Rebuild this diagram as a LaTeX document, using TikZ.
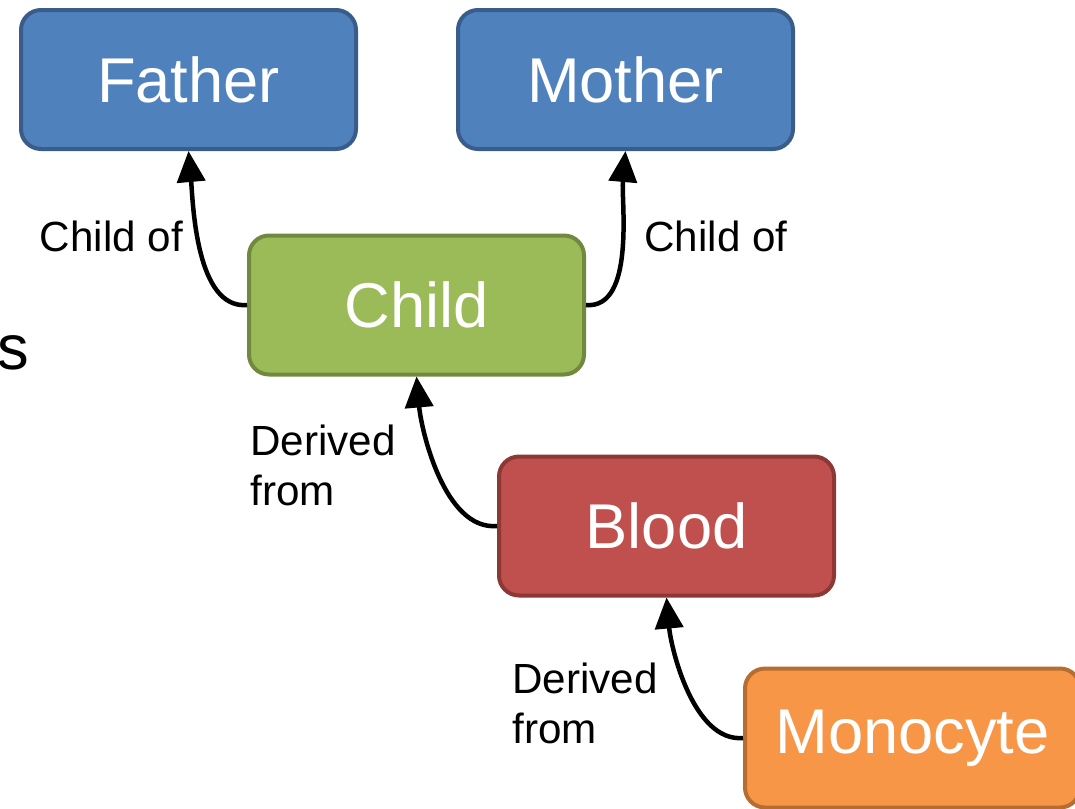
\documentclass[tikz,border=0pt]{standalone}
\usepackage{fontspec}
\setmainfont{Liberation Sans}
\usetikzlibrary{arrows.meta}

\definecolor{famblue}{HTML}{4F81BD}
\definecolor{famblueline}{HTML}{385D8A}
\definecolor{kidgreen}{HTML}{9BBB59}
\definecolor{kidgreenline}{HTML}{71893F}
\definecolor{bloodred}{HTML}{C0504D}
\definecolor{bloodredline}{HTML}{8C3836}
\definecolor{cellorange}{HTML}{F79646}
\definecolor{cellorangeline}{HTML}{B66D31}

\begin{document}
\begin{tikzpicture}[
            box/.style = {shape=rectangle, rounded corners=0.4cm,
                          draw, line width=0.08cm, inner sep=0pt,
                          minimum width=6.70cm, minimum height=2.78cm,
                          text=white, font=\fontsize{36}{40}\selectfont},
            lbl/.style = {align=left, inner sep=0pt,
                          font=\fontsize{24}{28.5}\selectfont},
            link/.style = {-{Triangle[width=0.56cm,length=0.62cm]},
                           line width=0.09cm, looseness=0.8}]
        \useasboundingbox (0,0) rectangle (21.5,-16.16);
        \clip (0,0) rectangle (21.5,-16.16);
        % left-over text at the edge
        \node[anchor=east, inner sep=0pt, font=\fontsize{36}{40}\selectfont] (cut) at (0.58,-7.05) {s};
        % boxes
        \node[box, fill=famblue, draw=famblueline] (father) at (3.77,-1.59) {Father};
        \node[box, fill=famblue, draw=famblueline] (mother) at (12.51,-1.59) {Mother};
        \node[box, fill=kidgreen, draw=kidgreenline] (child) at (8.33,-6.10) {Child};
        \node[box, fill=bloodred, draw=bloodredline] (blood) at (13.33,-10.52) {Blood};
        \node[box, fill=cellorange, draw=cellorangeline] (monocyte) at (18.25,-14.76) {Monocyte};
        % links
        \draw[link] (child.west) to[out=185, in=-85] (father.south);
        \draw[link] (child.east) to[out=-5, in=-95] (mother.south);
        \draw[link] (blood.west) to[out=185, in=-85] (child.south);
        \draw[link] (monocyte.west) to[out=185, in=-85] (blood.south);
        % labels
        \node[lbl] (childofl) at (2.23,-4.72) {Child of};
        \node[lbl] (childofr) at (14.32,-4.72) {Child of};
        \node[lbl, anchor=west] (derivedc) at (5.0,-9.30) {Derived\\from};
        \node[lbl, anchor=west] (derivedb) at (10.24,-14.06) {Derived\\from};
\end{tikzpicture}
\end{document}
